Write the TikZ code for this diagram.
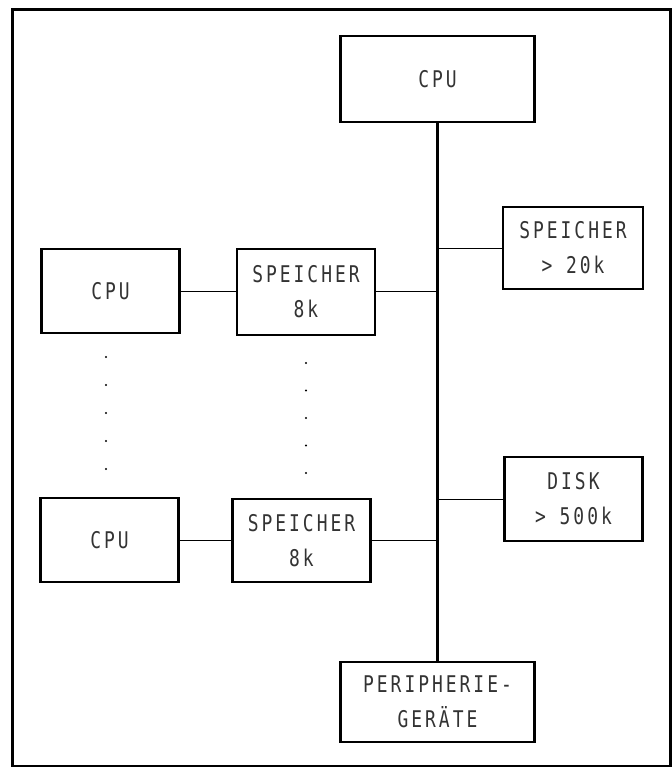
\documentclass[tikz,border=0pt]{standalone}
\usepackage{fontspec}
\newfontfamily\plotfont[FakeStretch=0.78,LetterSpace=13]{DejaVu Sans Mono}
\usetikzlibrary{positioning}

\begin{document}
\begin{tikzpicture}[
  x=0.5pt, y=-0.5pt,
  font={\plotfont\fontsize{11.5}{17.5}\selectfont},
  unit/.style={draw, line width=1.3pt, align=center, inner sep=0pt,
               text=black!80, minimum width=69pt, minimum height=42pt},
  wideunit/.style={unit, minimum width=97pt},
  link/.style={line width=0.5pt},
  bus/.style={line width=1.5pt},
  frame/.style={line width=1.5pt}
]
\useasboundingbox (0,0) rectangle (671,767);
\draw[frame] (12,9) rectangle (670,766);

% ---- central bus ----
\node[wideunit, minimum height=43pt] (cpuT) at (437.5, 79) {CPU};
\node[wideunit, minimum height=40pt] (peri) at (437.5,702) {PERIPHERIE-\\GERÄTE};
\draw[bus] (cpuT.south) -- (peri.north);

% ---- right-hand units ----
\node[unit, minimum width=70pt, minimum height=41pt] (memX) at (573,248) {SPEICHER\\> 20k};
\node[unit] (disk) at (573.5,499) {DISK\\> 500k};
\draw[link] (memX.west) -- (memX.west -| cpuT.south);
\draw[link] (disk.west) -- (disk.west -| cpuT.south);

% ---- left-hand processors ----
\node[unit] (cpuA) at (110.5,291) {CPU};
\node[unit, minimum height=43pt] (memA) at (306,292) {SPEICHER\\8k};
\node[unit] (cpuB) at (109.5,540) {CPU};
\node[unit, minimum height=41.5pt] (memB) at (301.5,540.5) {SPEICHER\\8k};
\draw[link] (cpuA.east) -- (cpuA.east -| memA.west);
\draw[link] (memA.east |- cpuA.east) -- (cpuA.east -| cpuT.south);
\draw[link] (cpuB.east) -- (cpuB.east -| memB.west);
\draw[link] (memB.east |- cpuB.east) -- (cpuB.east -| cpuT.south);

% ---- omitted units ----
\foreach \k in {0,...,4} {
  \fill (106,357+28*\k) circle (0.55pt);
  \fill (306,363+27.5*\k) circle (0.55pt);
}
\end{tikzpicture}
\end{document}
